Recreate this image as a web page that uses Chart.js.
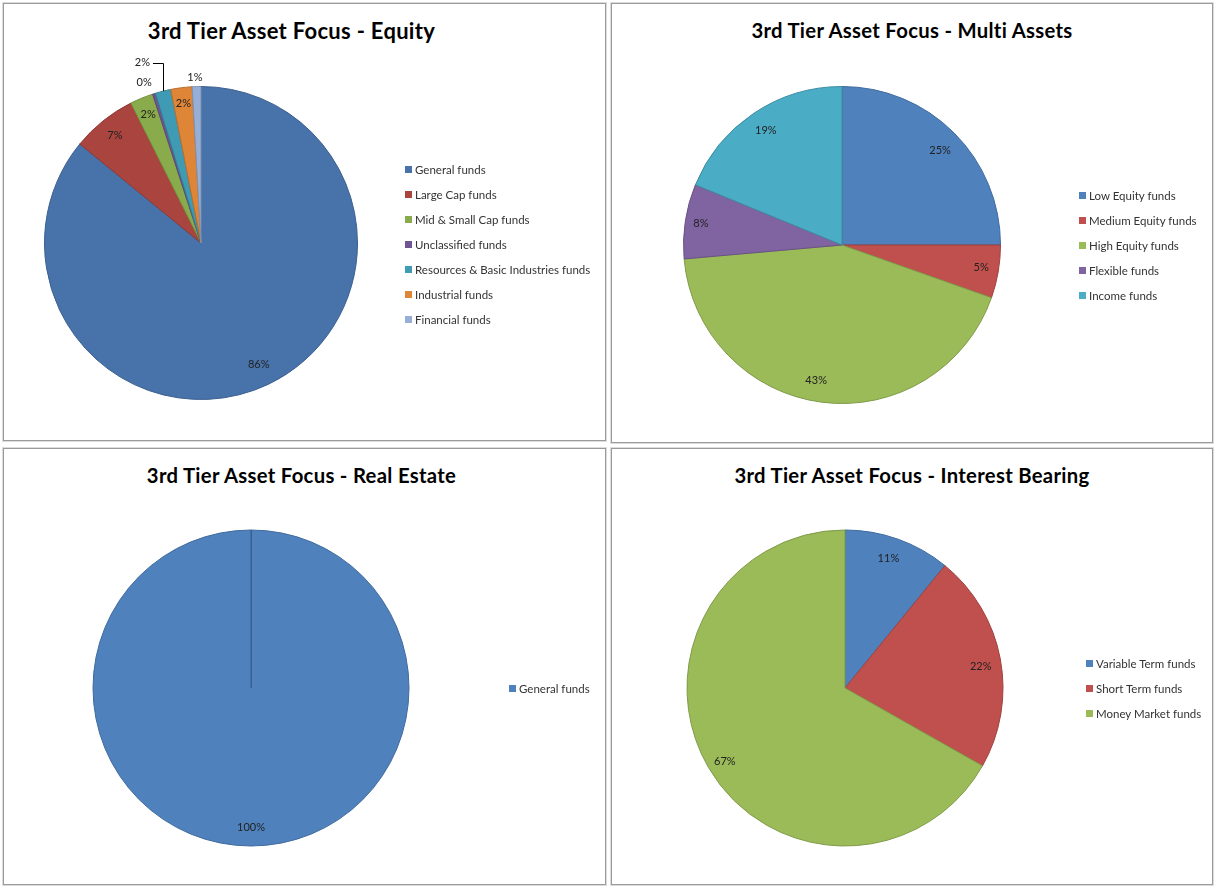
<!DOCTYPE html>
<html>
<head>
<meta charset="utf-8">
<script src="https://cdn.jsdelivr.net/npm/chart.js@4"></script>
<style>
  html, body { margin: 0; padding: 0; background: #fff; }
  body { width: 1215px; height: 887px; position: relative; overflow: hidden; font-family: Lato, "Open Sans", sans-serif; }
  .panel { position: absolute; box-sizing: border-box; border: 1px solid #9a9a9a; box-shadow: 0 0 0 1px #dcdcdc; background: #fff; }
  .panel canvas { position: absolute; left: 0; top: 0; }
  .title { position: absolute; left: 0; right: 0; top: 14px; text-align: center; font-weight: bold; font-size: 20.3px; letter-spacing: 0.3px; color: #000; }
  .legend { position: absolute; font-size: 11.5px; color: #333; }
  .legend div { height: 25px; display: flex; align-items: center; white-space: nowrap; }
  .legend span { display: inline-block; width: 7px; height: 7px; margin-right: 3px; }
</style>
</head>
<body>

<div class="panel" id="p1" style="left:3px;top:3px;width:603px;height:438px">
  <div class="title" style="padding-right:26px;font-size:22px;top:13px">3rd Tier Asset Focus - Equity</div>
  <canvas id="equityChart"></canvas>
  <div class="legend" id="equityLegend" style="left:401px;top:153px"></div>
</div>
<div class="panel" id="p2" style="left:611px;top:3px;width:602px;height:440px">
  <div class="title">3rd Tier Asset Focus - Multi Assets</div>
  <canvas id="multiChart"></canvas>
  <div class="legend" id="multiLegend" style="left:467px;top:179px"></div>
</div>
<div class="panel" id="p3" style="left:3px;top:448px;width:603px;height:437px">
  <div class="title" style="padding-right:6px">3rd Tier Asset Focus - Real Estate</div>
  <canvas id="realChart"></canvas>
  <div class="legend" id="realLegend" style="left:505px;top:227px"></div>
</div>
<div class="panel" id="p4" style="left:611px;top:448px;width:602px;height:437px">
  <div class="title">3rd Tier Asset Focus - Interest Bearing</div>
  <canvas id="interestChart"></canvas>
  <div class="legend" id="interestLegend" style="left:474px;top:202px"></div>
</div>

<script>
// --- dados (percentagens) ---
const equityLabels = ['General funds', 'Large Cap funds', 'Mid & Small Cap funds', 'Unclassified funds',
  'Resources & Basic Industries funds', 'Industrial funds', 'Financial funds'];
const equityValues = [85.9, 6.7, 2.4, 0.3, 1.6, 2.2, 0.9];

const multiLabels = ['Low Equity funds', 'Medium Equity funds', 'High Equity funds', 'Flexible funds', 'Income funds'];
const multiValues = [25.0, 5.4, 43.2, 7.6, 18.8];

const realLabels = ['General funds'];
const realValues = [100];

const interestLabels = ['Variable Term funds', 'Short Term funds', 'Money Market funds'];
const interestValues = [10.9, 22.3, 66.8];

// cores (paleta Excel)
const equityColors = ['#4772AA', '#A9443F', '#8AAB4B', '#6F5593', '#3F9AB3', '#DE8538', '#97AFD6'];
const equityBorders = ['#3C5F8E', '#8C3834', '#718D3D', '#5B4679', '#337E93', '#B86E2E', '#7D91B1'];
const officeColors = ['#4F81BD', '#C0504D', '#9BBB59', '#8064A2', '#4BACC6'];
const officeBorders = ['#3F6A9C', '#9E413F', '#7F9A49', '#695285', '#3D8DA3'];

// plugin para os rótulos de percentagem (estilo Excel "best fit")
const pctLabels = {
  id: 'pctLabels',
  afterDatasetsDraw(chart, args, opts) {
    const ctx = chart.ctx;
    const meta = chart.getDatasetMeta(0);
    const data = chart.data.datasets[0].data;
    const total = data.reduce((a, b) => a + b, 0);
    ctx.save();
    if (opts.startLine) {
      const arc = meta.data[0];
      ctx.strokeStyle = '#3C5F8E';
      ctx.lineWidth = 1;
      ctx.beginPath();
      ctx.moveTo(Math.round(arc.x) + 0.5, arc.y);
      ctx.lineTo(Math.round(arc.x) + 0.5, arc.y - arc.outerRadius);
      ctx.stroke();
    }
    ctx.font = '11px Lato, "Open Sans", sans-serif';
    ctx.fillStyle = '#222';
    ctx.textAlign = 'center';
    ctx.textBaseline = 'middle';
    meta.data.forEach((arc, i) => {
      const p = (opts.pos && opts.pos[i]) || [0.87, 0];
      const mid = (arc.startAngle + arc.endAngle) / 2;
      const a = mid + p[1] * Math.PI / 180;
      const r = arc.outerRadius;
      const lx = arc.x + Math.cos(a) * r * p[0];
      const ly = arc.y + Math.sin(a) * r * p[0];
      const text = Math.round(data[i] / total * 100) + '%';
      if (opts.leader === i) {
        const ex = arc.x + Math.cos(mid) * r;
        const ey = arc.y + Math.sin(mid) * r;
        const w = ctx.measureText(text).width;
        ctx.strokeStyle = '#000';
        ctx.lineWidth = 1;
        ctx.beginPath();
        ctx.moveTo(Math.round(ex) + 0.5, ey);
        ctx.lineTo(Math.round(ex) + 0.5, Math.round(ly) + 0.5);
        ctx.lineTo(lx + w / 2 + 3, Math.round(ly) + 0.5);
        ctx.stroke();
      }
      ctx.fillText(text, lx, ly);
    });
    ctx.restore();
  }
};

const makeLegend = (el, labels, colors) => {
  document.getElementById(el).innerHTML = labels
    .map((l, i) => `<div><span style="background:${colors[i]}"></span>${l}</div>`)
    .join('');
};

const makePie = (id, panel, labels, values, colors, borders, padding, labelOpts) => {
  const box = document.getElementById(panel);
  const canvas = document.getElementById(id);
  canvas.width = box.clientWidth;
  canvas.height = box.clientHeight;
  canvas.style.width = box.clientWidth + 'px';
  canvas.style.height = box.clientHeight + 'px';
  return new Chart(canvas, {
    type: 'pie',
    data: {
      labels: labels,
      datasets: [{
        data: values,
        backgroundColor: colors,
        borderColor: borders,
        borderWidth: 1,
      }],
    },
    options: {
      responsive: false,
      animation: false,
      layout: { padding: padding },
      plugins: {
        legend: { display: false },
        tooltip: { enabled: false },
        pctLabels: labelOpts,
      },
    },
    plugins: [pctLabels],
  });
};

makePie('equityChart', 'p1', equityLabels, equityValues, equityColors, equityBorders,
  { left: 40, top: 82, right: 247, bottom: 40 },
  { pos: [[0.86, 0], [0.88, 0], [0.89, 0], [1.09, -2], [1.21, -4], [0.9, 0], [1.06, -0.5]], leader: 4 });
makeLegend('equityLegend', equityLabels, equityColors);

makePie('multiChart', 'p2', multiLabels, multiValues, officeColors, officeBorders,
  { left: 71, top: 82, right: 211, bottom: 38 },
  { pos: [[0.86, 1], [0.89, -0.4], [0.87, 3.6], [0.9, 0], [0.87, 0.3]] });
makeLegend('multiLegend', multiLabels, officeColors);

makePie('realChart', 'p3', realLabels, realValues, officeColors, officeBorders,
  { left: 88.5, top: 80.5, right: 195.5, bottom: 37.5 },
  { pos: [[0.88, 0]], startLine: true });
makeLegend('realLegend', realLabels, officeColors);

makePie('interestChart', 'p4', interestLabels, interestValues, officeColors, officeBorders,
  { left: 74.5, top: 80.5, right: 208.5, bottom: 37.5 },
  { pos: [[0.865, -1.1], [0.87, 1.6], [0.89, -1.1]] });
makeLegend('interestLegend', interestLabels, officeColors);
</script>
</body>
</html>
